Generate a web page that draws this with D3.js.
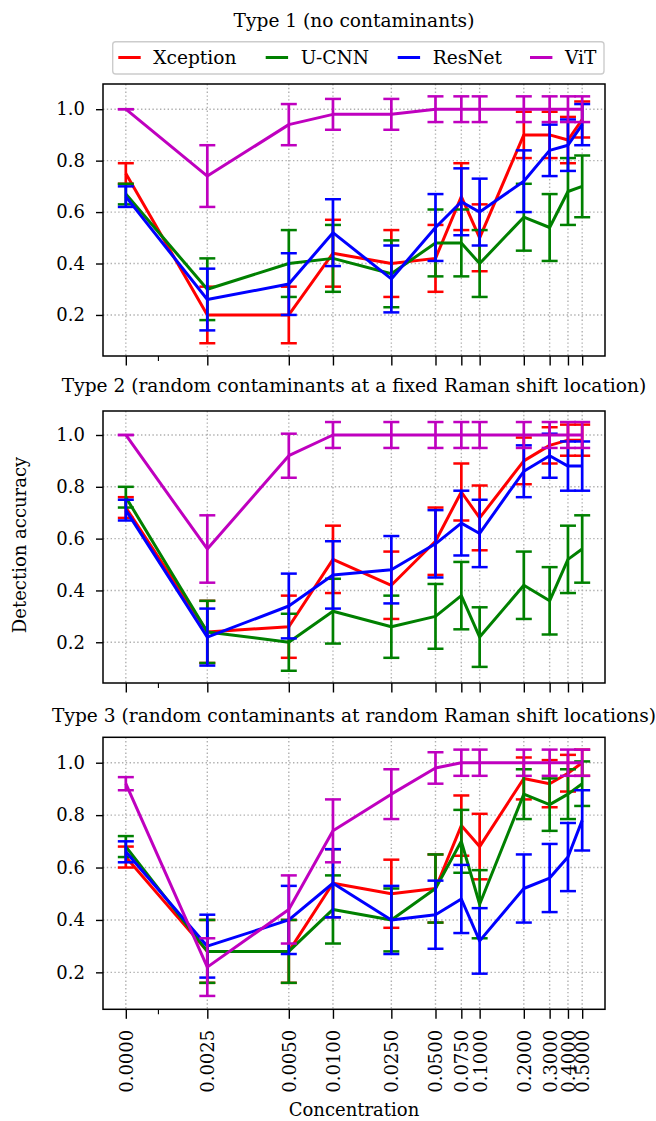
<!DOCTYPE html>
<html><head><meta charset="utf-8">
<script src="https://cdn.jsdelivr.net/npm/d3@7"></script>
<style>body{margin:0;background:#fff} text{font-family:"DejaVu Serif",serif;fill:#000}</style>
</head><body><svg id="c" width="656" height="1121"></svg>
<script>
const concentrations = [0,0.0025,0.005,0.01,0.025,0.05,0.075,0.1,0.2,0.3,0.4,0.5];
const tickLabels = ["0.0000","0.0025","0.0050","0.0100","0.0250","0.0500","0.0750","0.1000","0.2000","0.3000","0.4000","0.5000"];
const minorTicks = [0.001];
const yTicks = [0.2,0.4,0.6,0.8,1.0];
const models = ["Xception","U-CNN","ResNet","ViT"];
const modelColors = ["#ff0000","#008000","#0000ff","#bf00bf"];
const panelTitles = ["Type 1 (no contaminants)","Type 2 (random contaminants at a fixed Raman shift location)","Type 3 (random contaminants at random Raman shift locations)"];

// Type 1
const t1Xception = [0.75,0.20,0.20,0.44,0.40,0.42,0.66,0.50,0.90,0.90,0.88,0.96];
const t1XceptionErr = [0.04,0.11,0.11,0.13,0.13,0.13,0.13,0.13,0.09,0.09,0.09,0.07];
const t1UCNN = [0.67,0.30,0.40,0.42,0.36,0.48,0.48,0.40,0.58,0.54,0.68,0.70];
const t1UCNNErr = [0.04,0.12,0.13,0.13,0.13,0.13,0.13,0.13,0.13,0.13,0.13,0.12];
const t1ResNet = [0.66,0.26,0.32,0.52,0.34,0.54,0.64,0.60,0.72,0.84,0.86,0.94];
const t1ResNetErr = [0.04,0.12,0.12,0.13,0.13,0.13,0.13,0.13,0.12,0.10,0.10,0.08];
const t1ViT = [1.00,0.74,0.94,0.98,0.98,1.00,1.00,1.00,1.00,1.00,1.00,1.00];
const t1ViTErr = [0,0.12,0.08,0.06,0.06,0.05,0.05,0.05,0.05,0.05,0.05,0.05];

// Type 2
const t2Xception = [0.72,0.24,0.26,0.52,0.42,0.59,0.78,0.68,0.90,0.96,0.98,0.98];
const t2XceptionErr = [0.04,0.12,0.12,0.13,0.13,0.13,0.11,0.125,0.09,0.07,0.06,0.06];
const t2UCNN = [0.76,0.24,0.20,0.32,0.26,0.30,0.38,0.22,0.42,0.36,0.52,0.56];
const t2UCNNErr = [0.04,0.12,0.11,0.125,0.12,0.125,0.13,0.115,0.13,0.13,0.13,0.13];
const t2ResNet = [0.71,0.22,0.34,0.46,0.48,0.58,0.66,0.62,0.86,0.92,0.88,0.88];
const t2ResNetErr = [0.04,0.11,0.125,0.13,0.13,0.13,0.125,0.13,0.10,0.085,0.095,0.095];
const t2ViT = [1.00,0.56,0.92,1.00,1.00,1.00,1.00,1.00,1.00,1.00,1.00,1.00];
const t2ViTErr = [0,0.13,0.085,0.05,0.05,0.05,0.05,0.05,0.05,0.05,0.05,0.05];

// Type 3
const t3Xception = [0.64,0.28,0.28,0.54,0.50,0.52,0.76,0.68,0.94,0.92,0.96,1.00];
const t3XceptionErr = [0.04,0.12,0.12,0.13,0.13,0.13,0.115,0.125,0.08,0.09,0.07,0.05];
const t3UCNN = [0.68,0.28,0.28,0.44,0.40,0.52,0.70,0.46,0.88,0.84,0.88,0.92];
const t3UCNNErr = [0.04,0.12,0.12,0.13,0.12,0.13,0.12,0.13,0.095,0.10,0.095,0.085];
const t3ResNet = [0.66,0.30,0.40,0.54,0.40,0.42,0.48,0.32,0.52,0.56,0.64,0.78];
const t3ResNetErr = [0.04,0.12,0.13,0.13,0.13,0.13,0.13,0.125,0.13,0.13,0.13,0.115];
const t3ViT = [0.92,0.22,0.44,0.74,0.88,0.98,1.00,1.00,1.00,1.00,1.00,1.00];
const t3ViTErr = [0.025,0.11,0.13,0.12,0.095,0.06,0.05,0.05,0.05,0.05,0.05,0.05];

const panelSeries = [
  [[t1Xception,t1XceptionErr],[t1UCNN,t1UCNNErr],[t1ResNet,t1ResNetErr],[t1ViT,t1ViTErr]],
  [[t2Xception,t2XceptionErr],[t2UCNN,t2UCNNErr],[t2ResNet,t2ResNetErr],[t2ViT,t2ViTErr]],
  [[t3Xception,t3XceptionErr],[t3UCNN,t3UCNNErr],[t3ResNet,t3ResNetErr],[t3ViT,t3ViTErr]]
];

// layout
const FS = 18, TFS = 18.6;
const L = 103, R = 605;
const panels = [
  {top:84, bottom:356, domain:[0.0404,1.098], titleY:26.5},
  {top:411, bottom:683, domain:[0.0428,1.0926], titleY:391.5},
  {top:737.3, bottom:1009.3, domain:[0.059,1.097], titleY:722}
];

// matplotlib-style symlog transform (linthresh 0.005, linscale 1)
const LT = 0.005, LS = 1/(1-1/10);
const symlogT = v => { const a = Math.abs(v); return a <= LT ? v/LT*LS : Math.sign(v)*(LS + Math.log10(a/LT)); };
const tMax = symlogT(d3.max(concentrations)), tMin = symlogT(d3.min(concentrations));
const marg = 0.05*(tMax - tMin);
const xT = d3.scaleLinear().domain([tMin - marg, tMax + marg]).range([L, R]);
const xPos = v => xT(symlogT(v));

const svg = d3.select("#c");
svg.append("rect").attr("width",656).attr("height",1121).attr("fill","#fff");

const gridColor = "#b0b0b0";

panels.forEach((p, pi) => {
  const y = d3.scaleLinear().domain(p.domain).range([p.bottom, p.top]);
  const g = svg.append("g");
  // grid
  g.selectAll(".vg").data(concentrations).join("line")
    .attr("x1", d => xPos(d)).attr("x2", d => xPos(d))
    .attr("y1", p.top).attr("y2", p.bottom)
    .attr("stroke", gridColor).attr("stroke-width", 1.4).attr("stroke-dasharray", "1.4,2.4");
  g.selectAll(".hg").data(yTicks).join("line")
    .attr("x1", L).attr("x2", R)
    .attr("y1", d => y(d)).attr("y2", d => y(d))
    .attr("stroke", gridColor).attr("stroke-width", 1.4).attr("stroke-dasharray", "1.4,2.4");

  // series
  panelSeries[pi].forEach(([vals, errs], si) => {
    const col = modelColors[si];
    const pts = concentrations.map((c, i) => ({c, v: vals[i], e: errs[i]}));
    g.append("path").datum(pts)
      .attr("fill","none").attr("stroke", col).attr("stroke-width", 3)
      .attr("stroke-linejoin","round")
      .attr("d", d3.line().x(d => xPos(d.c)).y(d => y(d.v)));
    const eb = g.append("g");
    eb.selectAll("line.v").data(pts).join("line")
      .attr("x1", d => xPos(d.c)).attr("x2", d => xPos(d.c))
      .attr("y1", d => y(d.v - d.e)).attr("y2", d => y(d.v + d.e))
      .attr("stroke", col).attr("stroke-width", 2.7);
    [-1, 1].forEach(s => {
      eb.selectAll("line.c" + (s>0?"p":"m")).data(pts).join("line")
        .attr("x1", d => xPos(d.c) - 8).attr("x2", d => xPos(d.c) + 8)
        .attr("y1", d => y(d.v + s*d.e)).attr("y2", d => y(d.v + s*d.e))
        .attr("stroke", col).attr("stroke-width", 2.5);
    });
  });

  // frame
  g.append("rect").attr("x", L).attr("y", p.top).attr("width", R - L).attr("height", p.bottom - p.top)
    .attr("fill","none").attr("stroke","#000").attr("stroke-width", 1.5);

  // y axis
  const ya = g.append("g").attr("transform", `translate(${L},0)`)
    .call(d3.axisLeft(y).tickValues(yTicks).tickFormat(d3.format(".1f")).tickSize(7).tickPadding(11));
  ya.select(".domain").remove();
  ya.selectAll("line").attr("stroke","#000").attr("stroke-width",1.4);
  ya.selectAll("text").attr("font-size", FS).attr("font-family","DejaVu Serif");

  // x axis
  const xa = g.append("g").attr("transform", `translate(0,${p.bottom})`)
    .call(d3.axisBottom(xT).tickValues(concentrations.map(symlogT)).tickFormat((d,i) => tickLabels[i]).tickSize(9.5).tickPadding(11));
  xa.select(".domain").remove();
  xa.selectAll("line").attr("stroke","#000").attr("stroke-width",1.4);
  if (pi === panels.length - 1) {
    xa.selectAll("text").attr("font-size", FS).attr("font-family","DejaVu Serif")
      .attr("transform","rotate(-90)").attr("x", -20.5).attr("y", 0).attr("dy","0.36em")
      .attr("text-anchor","end");
  } else {
    xa.selectAll("text").remove();
  }
  g.selectAll(".mt").data(minorTicks).join("line")
    .attr("x1", d => xPos(d)).attr("x2", d => xPos(d))
    .attr("y1", p.bottom).attr("y2", p.bottom + 5)
    .attr("stroke","#000").attr("stroke-width",1.1);

  // title
  svg.append("text").attr("x", (L+R)/2).attr("y", p.titleY).attr("text-anchor","middle")
    .attr("font-size", TFS).text(panelTitles[pi]);
});

// legend
const lg = svg.append("g");
lg.append("rect").attr("x",112.7).attr("y",41.7).attr("width",491.3).attr("height",32.3).attr("rx",3)
  .attr("fill","#fff").attr("stroke","#cccccc").attr("stroke-width",1.4);
const legendX = [118.3, 265.7, 397.7, 530];
models.forEach((m, i) => {
  lg.append("line").attr("x1", legendX[i]).attr("x2", legendX[i] + 22.4)
    .attr("y1", 57.5).attr("y2", 57.5).attr("stroke", modelColors[i]).attr("stroke-width", 3);
  lg.append("text").attr("x", legendX[i] + 35).attr("y", 63.5).attr("font-size", TFS).text(m);
});

// axis labels
svg.append("text").attr("x", (L+R)/2).attr("y", 1116).attr("text-anchor","middle").attr("font-size", FS).text("Concentration");
svg.append("text").attr("transform","translate(25.5,545) rotate(-90)").attr("text-anchor","middle").attr("font-size", FS).text("Detection accuracy");
</script></body></html>
